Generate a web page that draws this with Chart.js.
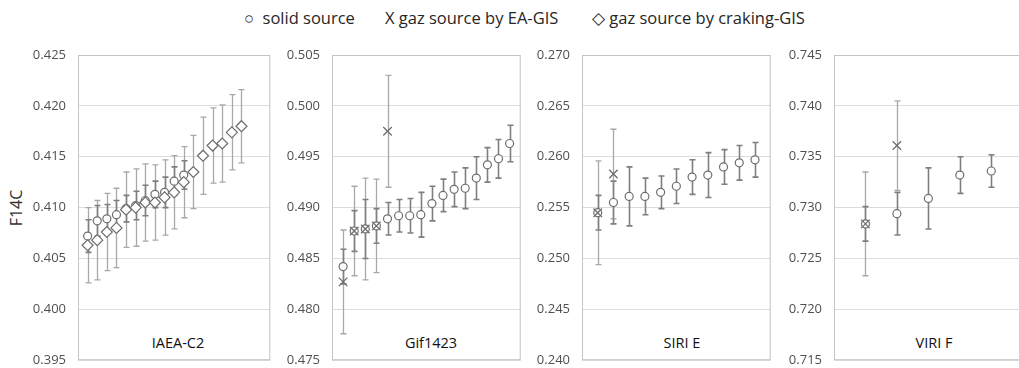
<!DOCTYPE html>
<html><head><meta charset="utf-8">
<script src="https://cdn.jsdelivr.net/npm/chart.js@4.4.0/dist/chart.umd.min.js"></script>
<style>
html,body{margin:0;padding:0;width:1019px;height:368px;overflow:hidden;background:#fff;font-family:"Open Sans",sans-serif;}
canvas{position:absolute;top:0;}
.t{position:absolute;white-space:nowrap;color:#262626;}
.leg{top:7px;font-size:16.5px;line-height:22px;}
.pl{top:332px;font-size:14.5px;line-height:22px;transform:translateX(-50%);color:#111;}
#ytitle{left:16px;top:208px;font-size:16px;line-height:20px;transform:translate(-50%,-50%) rotate(-90deg);color:#333;}
</style></head><body>
<div class="t leg" style="left:244px">○&nbsp; solid source</div>
<div class="t leg" style="left:385px">X gaz source by EA-GIS</div>
<div class="t leg" style="left:592px">◇ gaz source by craking-GIS</div>
<div class="t" id="ytitle">F14C</div>
<div class="t pl" style="left:178px">IAEA-C2</div>
<div class="t pl" style="left:431px">Gif1423</div>
<div class="t pl" style="left:682px">SIRI E</div>
<div class="t pl" style="left:934px">VIRI F</div>
<canvas id="c0"></canvas><canvas id="c1"></canvas><canvas id="c2"></canvas><canvas id="c3"></canvas>
<script>
// ---- data ----
const panelNames = ['IAEA-C2', 'Gif1423', 'SIRI E', 'VIRI F'];
const yRanges = [[0.395, 0.425], [0.475, 0.505], [0.240, 0.270], [0.715, 0.745]];
const yStep = 0.005;
const xSlots = [20, 17, 12, 6];

const iaeaSolid    = [0.4072, 0.4087, 0.4089, 0.4093, 0.4099, 0.4102, 0.4107, 0.4113, 0.4115, 0.4126, 0.4132];
const iaeaSolidErr = [0.0016, 0.0015, 0.0014, 0.0014, 0.0013, 0.0014, 0.0015, 0.0013, 0.0015, 0.0014, 0.0014];
const iaeaCrack    = [0.4063, 0.4068, 0.4076, 0.4080, 0.4098, 0.4100, 0.4105, 0.4105, 0.4110, 0.4115, 0.4125, 0.4135, 0.4151, 0.4161, 0.4163, 0.4174, 0.4180];
const iaeaCrackErr = [0.0037, 0.0039, 0.0038, 0.0039, 0.0037, 0.0038, 0.0038, 0.0037, 0.0037, 0.0036, 0.0035, 0.0036, 0.0038, 0.0037, 0.0038, 0.0037, 0.0036];

const gifSolid    = [0.4842, 0.4877, 0.4879, 0.4882, 0.4889, 0.4892, 0.4892, 0.4893, 0.4904, 0.4912, 0.4918, 0.4919, 0.4929, 0.4942, 0.4948, 0.4963];
const gifSolidErr = [0.0017, 0.0020, 0.0029, 0.0017, 0.0016, 0.0016, 0.0017, 0.0022, 0.0017, 0.0016, 0.0017, 0.0020, 0.0021, 0.0017, 0.0019, 0.0018];
const gifEA       = [0.4827, 0.4877, 0.4879, 0.4882, 0.4975];
const gifEAErr    = [0.0051, 0.0044, 0.0050, 0.0046, 0.0055];

const siriSolid    = [0.2545, 0.2555, 0.2561, 0.2561, 0.2565, 0.2571, 0.2580, 0.2582, 0.2590, 0.2594, 0.2597];
const siriSolidErr = [0.0017, 0.0021, 0.0029, 0.0018, 0.0016, 0.0017, 0.0017, 0.0022, 0.0017, 0.0017, 0.0017];
const siriEA       = [0.2545, 0.2583];
const siriEAErr    = [0.0051, 0.0044];

const viriSolid    = [0.7284, 0.7294, 0.7309, 0.7332, 0.7336];
const viriSolidErr = [0.0017, 0.0021, 0.0030, 0.0018, 0.0016];
const viriEA       = [0.7284, 0.7361];
const viriEAErr    = [0.0051, 0.0044];

// ---- layout / styles ----
const layout = [
  {left: 0,   axisW: 78, width: 277},
  {left: 277, axisW: 55, width: 251},
  {left: 530, axisW: 52, width: 248},
  {left: 780, axisW: 54, width: 250}
];
const CANVAS_H = 380;

function pts(arr) { return arr.map((v, i) => ({x: i + 1, y: v})); }

function solidDs(vals, errs) {
  return {label: 'solid source', data: pts(vals), errors: errs, errColor: '#7f7f7f', errWidth: 1.6, errZ: 2,
    pointStyle: 'circle', pointRadius: 4, backgroundColor: '#ffffff', borderColor: '#6e6e6e', borderWidth: 1.2, showLine: false};
}
function eaDs(vals, errs) {
  return {label: 'gaz source by EA-GIS', data: pts(vals), errors: errs, errColor: '#a8a8a8', errWidth: 1.3, errZ: 1,
    pointStyle: 'crossRot', pointRadius: 6, backgroundColor: '#ffffff', borderColor: '#6e6e6e', borderWidth: 1.3, showLine: false};
}
function crackDs(vals, errs) {
  return {label: 'gaz source by craking-GIS', data: pts(vals), errors: errs, errColor: '#a8a8a8', errWidth: 1.3, errZ: 1,
    pointStyle: 'rectRot', pointRadius: 5.5, backgroundColor: '#ffffff', borderColor: '#6e6e6e', borderWidth: 1.2, showLine: false};
}

const panelDatasets = [
  [crackDs(iaeaCrack, iaeaCrackErr), solidDs(iaeaSolid, iaeaSolidErr)],
  [eaDs(gifEA, gifEAErr), solidDs(gifSolid, gifSolidErr)],
  [eaDs(siriEA, siriEAErr), solidDs(siriSolid, siriSolidErr)],
  [eaDs(viriEA, viriEAErr), solidDs(viriSolid, viriSolidErr)]
];

const frameAndErrors = {
  id: 'frameAndErrors',
  beforeDatasetsDraw(chart) {
    const {ctx, chartArea: a, scales: {x, y}} = chart;
    ctx.save();
    ctx.strokeStyle = '#c4c4c4';
    ctx.lineWidth = 1;
    ctx.strokeRect(a.left + 0.5, a.top + 0.5, a.right - a.left - 1, a.bottom - a.top - 1);
    const cap = 3;
    const sets = chart.data.datasets.slice().sort((p, q) => p.errZ - q.errZ);
    sets.forEach(ds => {
      ctx.strokeStyle = ds.errColor;
      ctx.lineWidth = ds.errWidth;
      ds.data.forEach((p, i) => {
        const e = ds.errors[i];
        const px = Math.round(x.getPixelForValue(p.x)) + 0.5;
        const t = y.getPixelForValue(p.y + e), b = y.getPixelForValue(p.y - e);
        ctx.beginPath();
        ctx.moveTo(px, t); ctx.lineTo(px, b);
        ctx.moveTo(px - cap, t); ctx.lineTo(px + cap, t);
        ctx.moveTo(px - cap, b); ctx.lineTo(px + cap, b);
        ctx.stroke();
      });
    });
    ctx.restore();
  }
};

panelNames.forEach((name, k) => {
  const L = layout[k];
  const cv = document.getElementById('c' + k);
  cv.width = L.width; cv.height = CANVAS_H;
  cv.style.left = L.left + 'px';
  cv.style.width = L.width + 'px'; cv.style.height = CANVAS_H + 'px';
  new Chart(cv, {
    type: 'scatter',
    data: {datasets: panelDatasets[k]},
    options: {
      responsive: false, animation: false,
      layout: {padding: {top: 55, bottom: CANVAS_H - 363, left: 0, right: 1}},
      plugins: {legend: {display: false}, tooltip: {enabled: false}, title: {display: false}},
      scales: {
        x: {type: 'linear', min: 0, max: xSlots[k], display: false},
        y: {
          type: 'linear', min: yRanges[k][0], max: yRanges[k][1],
          ticks: {stepSize: yStep, callback: v => v.toFixed(3), color: '#505050', padding: 12,
                  font: {family: 'Open Sans', size: 13}},
          grid: {color: '#dcdcdc', drawTicks: false, lineWidth: 1},
          border: {display: false},
          afterFit(s) { s.width = L.axisW; }
        }
      }
    },
    plugins: [frameAndErrors]
  });
});
</script>
</body></html>
